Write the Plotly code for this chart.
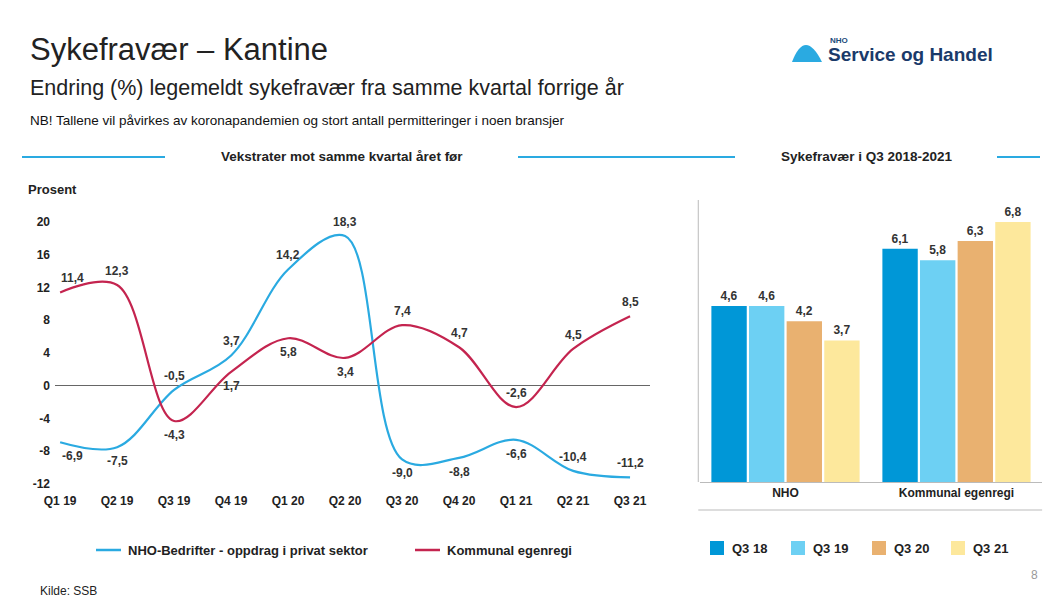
import plotly.graph_objects as go

quarters = ["Q1 19","Q2 19","Q3 19","Q4 19","Q1 20","Q2 20","Q3 20","Q4 20","Q1 21","Q2 21","Q3 21"]
nho = [-6.9,-7.5,-0.5,3.7,14.2,18.3,-9.0,-8.8,-6.6,-10.4,-11.2]
kommunal = [11.4,12.3,-4.3,1.7,5.8,3.4,7.4,4.7,-2.6,4.5,8.5]
bar_groups = ["NHO","Kommunal egenregi"]
bar_series = ["Q3 18","Q3 19","Q3 20","Q3 21"]
bar_values = [[4.6,6.1],[4.6,5.8],[4.2,6.3],[3.7,6.8]]
bar_colors = ["#0097d7","#6dd0f3","#e9b170","#fde89c"]
yticks = [20,16,12,8,4,0,-4,-8,-12]

BLUE="#2aaae1"; RED="#c4244f"
F="Liberation Sans, Arial, sans-serif"
fig = go.Figure()
fig.add_trace(go.Scatter(x=list(range(11)), y=nho, mode="lines", line=dict(color=BLUE,width=2.2,shape="spline"),
    name="NHO-Bedrifter - oppdrag i privat sektor", xaxis="x", yaxis="y"))
fig.add_trace(go.Scatter(x=list(range(11)), y=kommunal, mode="lines", line=dict(color=RED,width=2.2,shape="spline"),
    name="Kommunal egenregi", xaxis="x", yaxis="y"))
def lab(v): return f"{v:.1f}".replace(".",",")
for i,(a,b) in enumerate(zip(nho,kommunal)):
    up_a = a>=b or i>=9
    xs = 12 if i==0 else 0
    fig.add_annotation(x=i,y=a,xshift=xs,yshift=(14 if up_a else -14),text="<b>"+lab(a)+"</b>",showarrow=False,xref="x",yref="y",font=dict(size=12,color="#333",family=F))
    fig.add_annotation(x=i,y=b,xshift=xs,yshift=(14 if b>a else -14),text="<b>"+lab(b)+"</b>",showarrow=False,xref="x",yref="y",font=dict(size=12,color="#333",family=F))
for s,vals,c in zip(bar_series,bar_values,bar_colors):
    fig.add_trace(go.Bar(x=bar_groups,y=vals,name=s,marker=dict(color=c,line=dict(width=0)),
        text=["<b>"+lab(v)+"</b>" for v in vals],textposition="outside",textfont=dict(size=12,color="#333",family=F),
        xaxis="x2",yaxis="y2",cliponaxis=False))
fig.update_layout(
    width=1058,height=604,margin=dict(l=0,r=0,t=0,b=0),paper_bgcolor="white",plot_bgcolor="white",
    showlegend=False,barmode="group",bargap=0.12,bargroupgap=0.06,font=dict(family=F),
    xaxis=dict(domain=[55/1058,650/1058],range=[-0.09,10.35],tickvals=list(range(11)),ticktext=["<b>"+q+"</b>" for q in quarters],
        showgrid=False,zeroline=False,showline=False,tickfont=dict(size=12,color="#222"),anchor="y",automargin=False,ticklabelstandoff=8),
    yaxis=dict(domain=[1-484/604,1-222/604],range=[-12,20],tickvals=yticks,ticktext=["<b>%d</b>"%t for t in yticks],
        showgrid=False,zeroline=True,zerolinecolor="#666",zerolinewidth=1,tickfont=dict(size=12,color="#222"),
        anchor="free",position=50/1058,automargin=False),
    xaxis2=dict(domain=[700/1058,1042/1058],showgrid=False,showline=True,linecolor="#bbb",ticks="outside",ticklen=0,
        tickfont=dict(size=12,color="#222"),ticktext=["<b>NHO</b>","<b>Kommunal egenregi</b>"],tickvals=bar_groups,anchor="y2",automargin=False),
    yaxis2=dict(domain=[1-482/604,1-220/604],range=[0,6.85],visible=False,anchor="x2",automargin=False),
)
fig.add_shape(type="line",xref="paper",yref="paper",x0=0.66,x1=0.66,y0=1-482/604,y1=1-200/604,line=dict(color="#bbb",width=1))
fig.add_shape(type="line",xref="paper",yref="paper",x0=0.66,x1=0.985,y0=1-510/604,y1=1-510/604,line=dict(color="#bbb",width=1))
A=lambda **k: fig.add_annotation(xref="paper",yref="paper",showarrow=False,**k)
A(x=28/1058,y=1-50/604,text="Sykefravær – Kantine",font=dict(size=31,color="#222"),xanchor="left",yanchor="middle")
A(x=28/1058,y=1-88/604,text="Endring (%) legemeldt sykefravær fra samme kvartal forrige år",font=dict(size=21.5,color="#222"),xanchor="left",yanchor="middle")
A(x=28/1058,y=1-121/604,text="NB! Tallene vil påvirkes av koronapandemien og stort antall permitteringer i noen bransjer",font=dict(size=13.5,color="#111"),xanchor="left",yanchor="middle")
A(x=342/1058,y=1-157/604,text="<b>Vekstrater mot samme kvartal året før</b>",font=dict(size=13.5,color="#222"),xanchor="center",yanchor="middle")
A(x=867/1058,y=1-157/604,text="<b>Sykefravær i Q3 2018-2021</b>",font=dict(size=13.5,color="#222"),xanchor="center",yanchor="middle")
for x0,x1 in [(22,165),(518,735),(997,1040)]:
    fig.add_shape(type="line",xref="paper",yref="paper",x0=x0/1058,x1=x1/1058,y0=1-157/604,y1=1-157/604,line=dict(color=BLUE,width=2))
A(x=26/1058,y=1-190/604,text="<b>Prosent</b>",font=dict(size=13,color="#222"),xanchor="left",yanchor="middle")
def leg(x,c,t,sq=False):
    if sq:
        fig.add_shape(type="rect",xref="paper",yref="paper",x0=x/1058,x1=(x+14)/1058,y0=1-555/604,y1=1-541/604,fillcolor=c,line=dict(width=0))
        A(x=(x+20)/1058,y=1-548/604,text="<b>"+t+"</b>",font=dict(size=13,color="#222"),xanchor="left",yanchor="middle")
    else:
        fig.add_shape(type="line",xref="paper",yref="paper",x0=x/1058,x1=(x+25)/1058,y0=1-550/604,y1=1-550/604,line=dict(color=c,width=2.5))
        A(x=(x+30)/1058,y=1-550/604,text="<b>"+t+"</b>",font=dict(size=13,color="#222"),xanchor="left",yanchor="middle")
leg(96,BLUE,"NHO-Bedrifter - oppdrag i privat sektor")
leg(415,RED,"Kommunal egenregi")
for x,c,t in zip([710,791,872,951],bar_colors,bar_series): leg(x,c,t,True)
A(x=38/1058,y=1-591/604,text="Kilde: SSB",font=dict(size=12,color="#222"),xanchor="left",yanchor="middle")
A(x=1040/1058,y=1-575/604,text="8",font=dict(size=12,color="#999"),xanchor="right",yanchor="middle")
A(x=828/1058,y=1-40/604,text="<b>NHO</b>",font=dict(size=8,color="#1a4a7a"),xanchor="left",yanchor="middle")
A(x=826/1058,y=1-54/604,text="<b>Service og Handel</b>",font=dict(size=19,color="#1a3a6a"),xanchor="left",yanchor="middle")
fig.add_shape(type="path",xref="paper",yref="paper",path=f"M {792/1058} {1-62/604} Q {805/1058} {1-28/604} {822/1058} {1-62/604} Z",fillcolor="#2aaae1",line=dict(width=0))
fig.write_html("out.html", post_script="document.body.style.margin='0';", config={"displayModeBar": False})
